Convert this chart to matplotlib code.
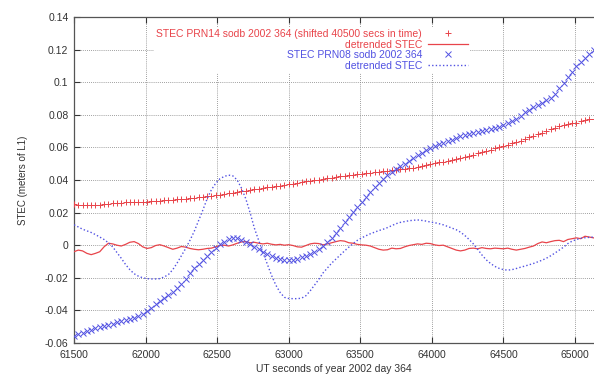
import numpy as np
import matplotlib
matplotlib.use("Agg")
import matplotlib.pyplot as plt

# ---- data (30 s sampling) ----
t_start = 61500
t_step = 30

stec_prn14 = [
    .0250, .0248, .0246, .0245, .0245, .0247, .0249, .0251, .0253, .0256,
    .0258, .0260, .0262, .0264, .0265, .0266, .0267, .0268, .0270, .0272,
    .0273, .0275, .0277, .0279, .0281, .0283, .0286, .0288, .0291, .0294,
    .0297, .0300, .0304, .0307, .0310, .0314, .0318, .0322, .0326, .0331,
    .0335, .0339, .0343, .0347, .0350, .0354, .0358, .0362, .0366, .0370,
    .0374, .0378, .0383, .0387, .0391, .0394, .0398, .0402, .0406, .0411,
    .0415, .0419, .0423, .0426, .0429, .0433, .0436, .0439, .0442, .0445,
    .0447, .0450, .0453, .0456, .0460, .0463, .0466, .0469, .0473, .0476,
    .0480, .0485, .0490, .0497, .0503, .0508, .0512, .0517, .0522, .0527,
    .0532, .0540, .0548, .0556, .0565, .0573, .0580, .0587, .0594, .0601,
    .0608, .0616, .0624, .0632, .0641, .0651, .0661, .0671, .0681, .0690,
    .0700, .0710, .0720, .0730, .0738, .0743, .0748, .0752, .0760, .0768,
    .0774, .0775,
]

detr_prn14 = [
    -.0040, -.0030, -.0035, -.0050, -.0058, -.0050, -.0040, -.0010, .0012, .0008,
    .0000, -.0005, .0005, .0018, .0022, .0010, -.0010, -.0020, -.0015, -.0002,
    .0003, -.0005, -.0015, -.0025, -.0018, -.0008, -.0012, -.0020, -.0025, -.0028,
    -.0025, -.0020, -.0018, -.0010, -.0002, .0000, -.0005, .0002, .0012, .0020,
    .0022, .0015, .0018, .0012, .0008, .0012, .0006, .0002, .0005, .0000,
    .0003, -.0002, -.0010, -.0012, -.0002, .0008, .0012, .0010, .0002, .0008,
    .0015, .0022, .0028, .0025, .0015, .0012, .0005, .0002, .0000, -.0005,
    -.0015, -.0025, -.0030, -.0028, -.0018, -.0022, -.0020, -.0010, -.0002, .0003,
    .0008, .0005, .0012, .0010, .0002, -.0002, .0000, -.0010, -.0020, -.0030,
    -.0035, -.0030, -.0020, -.0018, -.0022, -.0015, -.0020, -.0022, -.0018, -.0020,
    -.0022, -.0018, -.0025, -.0030, -.0025, -.0020, -.0012, -.0005, .0010, .0020,
    .0015, .0022, .0028, .0030, .0022, .0035, .0040, .0045, .0040, .0055,
    .0050, .0045,
]

stec_prn08 = [
    -.0555, -.0545, -.0536, -.0527, -.0518, -.0511, -.0504, -.0497, -.0489, -.0481,
    -.0473, -.0466, -.0460, -.0453, -.0445, -.0435, -.0422, -.0405, -.0385, -.0363,
    -.0342, -.0322, -.0303, -.0285, -.0262, -.0235, -.0205, -.0172, -.0140, -.0113,
    -.0088, -.0064, -.0041, -.0018, .0005, .0022, .0036, .0044, .0042, .0033,
    .0020, .0005, -.0010, -.0025, -.0040, -.0055, -.0067, -.0077, -.0085, -.0089,
    -.0090, -.0088, -.0083, -.0075, -.0066, -.0055, -.0040, -.0022, -.0002, .0020,
    .0045, .0075, .0107, .0140, .0172, .0205, .0237, .0268, .0298, .0327,
    .0355, .0382, .0407, .0430, .0450, .0468, .0484, .0500, .0518, .0536,
    .0552, .0567, .0582, .0596, .0607, .0618, .0628, .0638, .0648, .0660,
    .0670, .0677, .0683, .0689, .0694, .0700, .0706, .0712, .0719, .0727,
    .0737, .0748, .0762, .0776, .0795, .0815, .0830, .0845, .0860, .0875,
    .0890, .0905, .0925, .0964, .0997, .1030, .1064, .1097, .1125, .1150,
    .1175, .1198,
]

detr_prn08 = [
    .0125, .0112, .0098, .0088, .0078, .0065, .0050, .0035, .0015, -.0010,
    -.0045, -.0080, -.0118, -.0150, -.0175, -.0190, -.0200, -.0205, -.0207, -.0207,
    -.0205, -.0195, -.0180, -.0150, -.0110, -.0065, -.0020, .0030, .0085, .0150,
    .0215, .0285, .0340, .0380, .0408, .0422, .0430, .0425, .0400, .0350,
    .0285, .0200, .0105, .0030, -.0045, -.0115, -.0185, -.0245, -.0290, -.0320,
    -.0327, -.0328, -.0328, -.0325, -.0310, -.0280, -.0245, -.0210, -.0170, -.0140,
    -.0110, -.0085, -.0060, -.0035, -.0012, .0010, .0030, .0045, .0058, .0070,
    .0080, .0090, .0098, .0108, .0120, .0132, .0140, .0145, .0150, .0153,
    .0155, .0152, .0148, .0142, .0138, .0132, .0125, .0115, .0105, .0095,
    .0080, .0060, .0035, .0008, -.0025, -.0060, -.0090, -.0112, -.0130, -.0142,
    -.0150, -.0153, -.0150, -.0143, -.0135, -.0128, -.0120, -.0112, -.0102, -.0092,
    -.0080, -.0065, -.0048, -.0030, -.0012, .0010, .0025, .0035, .0042, .0046,
    .0048, .0050,
]

n = len(stec_prn14)
assert len(detr_prn14) == n and len(stec_prn08) == n and len(detr_prn08) == n, \
    (len(stec_prn14), len(detr_prn14), len(stec_prn08), len(detr_prn08))
times = t_start + t_step * np.arange(n)

x_ticks = [61500, 62000, 62500, 63000, 63500, 64000, 64500, 65000]
y_ticks = [-0.06, -0.04, -0.02, 0, 0.02, 0.04, 0.06, 0.08, 0.1, 0.12, 0.14]

labels = ["STEC PRN14 sodb 2002 364 (shifted 40500 secs in time)",
          "detrended STEC",
          "STEC PRN08 sodb 2002 364",
          "detrended STEC"]

RED = "#e8444a"
BLUE = "#5252e2"

plt.rcParams['font.family'] = ['Liberation Sans', 'DejaVu Sans']

fig = plt.figure(figsize=(5.94, 3.74), dpi=100)
ax = fig.add_axes([74 / 594, 31 / 374, 1 - 74 / 594, (343 - 17) / 374])

ax.plot(times, stec_prn14, linestyle='none', marker='+', ms=4, mew=0.7,
        color=RED, label=labels[0], zorder=3)
ax.plot(times, detr_prn14, linestyle='-', lw=0.9, color=RED,
        label=labels[1], zorder=3)
ax.plot(times, stec_prn08, linestyle='none', marker='x', ms=3.8, mew=0.7,
        color=BLUE, label=labels[2], zorder=3)
ax.plot(times, detr_prn08, linestyle=(0, (1, 1.6)), lw=1.0, color=BLUE,
        label=labels[3], zorder=3)

ax.set_xlim(61500, 61500 + 520 / (501 / 3500))
ax.set_ylim(-0.06, 0.14)
ax.set_xticks(x_ticks)
ax.set_yticks(y_ticks)
ax.set_xticklabels([str(v) for v in x_ticks])
ax.set_yticklabels(["%g" % v for v in y_ticks])
ax.tick_params(axis='both', direction='in', length=4, width=0.8,
               labelsize=7.5, colors='#333333', top=True, pad=4)
ax.tick_params(axis='x', pad=5)
ax.grid(True, color='#808080', linestyle=(0, (1, 1.5)), linewidth=0.6)
ax.set_axisbelow(True)

for s in ['left', 'bottom', 'top']:
    ax.spines[s].set_color('#555555')
    ax.spines[s].set_linewidth(0.9)
ax.spines['right'].set_visible(False)

ax.set_xlabel("UT seconds of year 2002 day 364", fontsize=7.5, color='#333333',
              labelpad=3)
ax.set_ylabel("STEC (meters of L1)", fontsize=7, color='#333333', labelpad=12)

leg = ax.legend(loc='upper right', bbox_to_anchor=(470 / 594, 1 - 27 / 374),
                bbox_transform=fig.transFigure, markerfirst=False, numpoints=1,
                fontsize=7.5, labelcolor='linecolor', handlelength=3.8,
                handletextpad=0.6, labelspacing=0.05, borderpad=0.2,
                borderaxespad=0, frameon=True, fancybox=False)
leg.get_frame().set_facecolor('white')
leg.get_frame().set_edgecolor('none')
leg.get_frame().set_alpha(1)
for txt in leg.get_texts():
    txt.set_ha('right')
leg._legend_box.align = "right"

fig.savefig("out.png", dpi=100)
